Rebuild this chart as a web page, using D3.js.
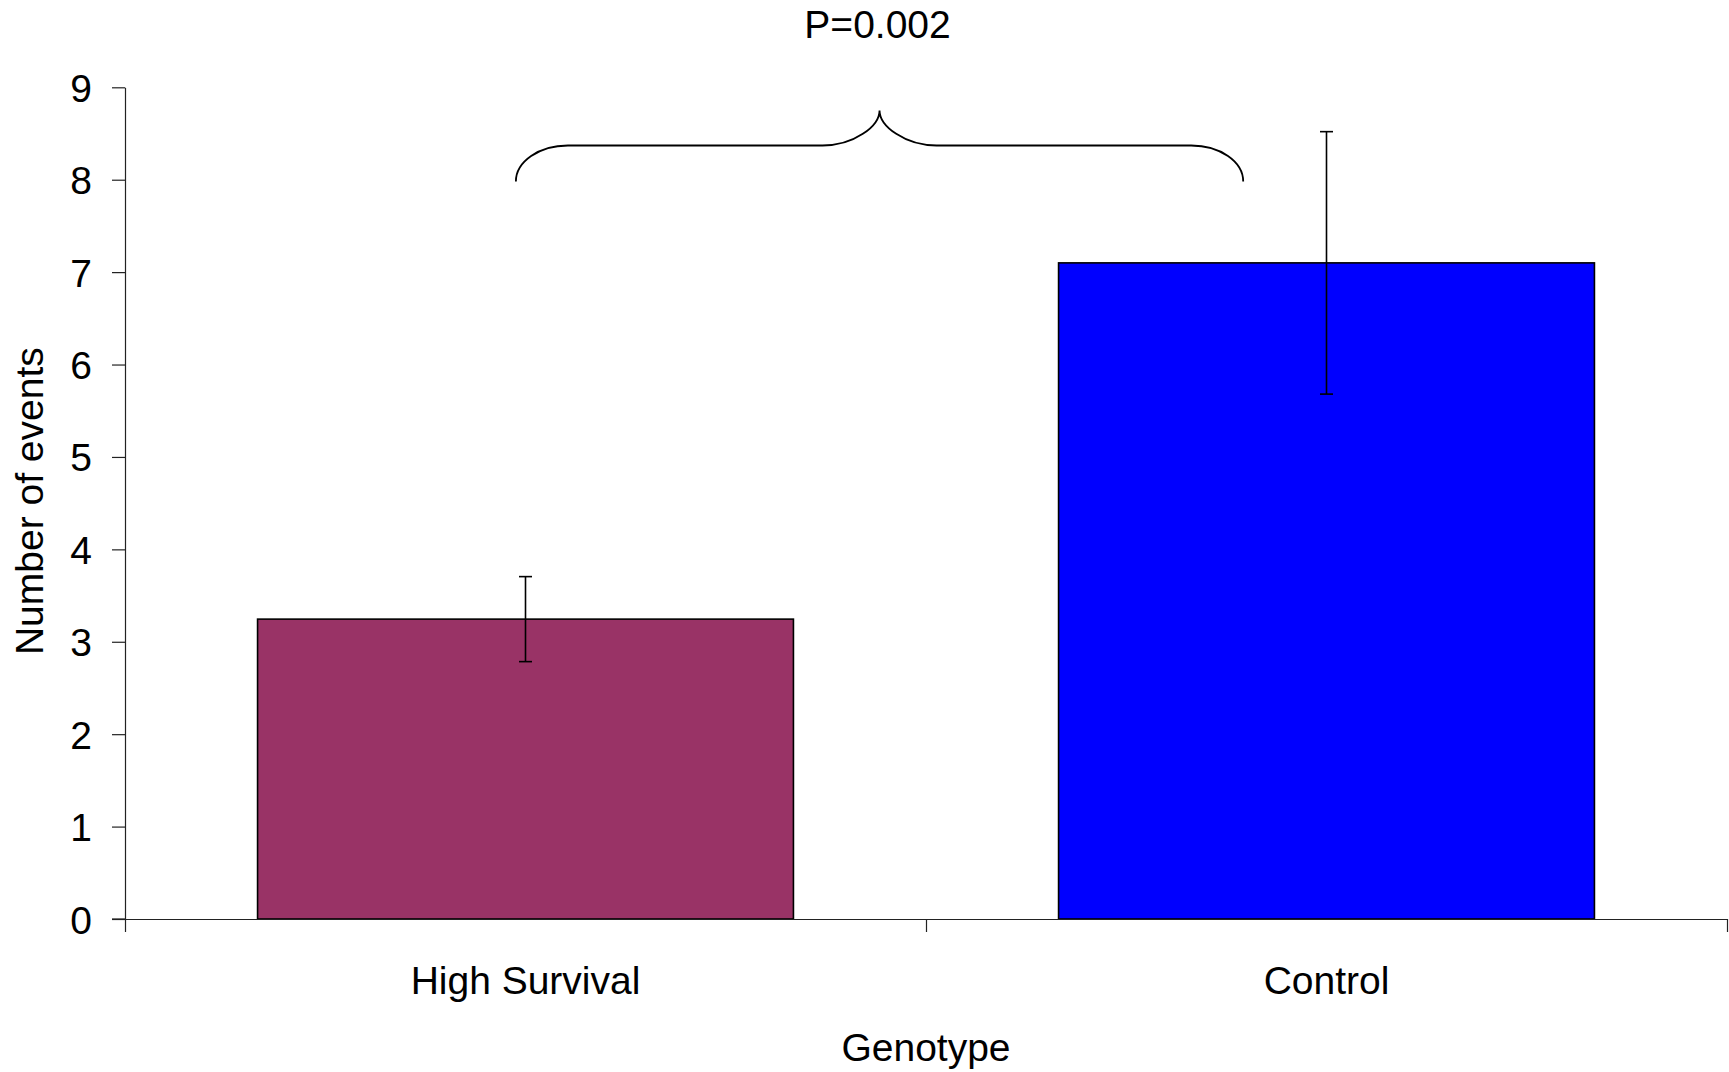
<!DOCTYPE html>
<html>
<head>
<meta charset="utf-8">
<script src="https://cdn.jsdelivr.net/npm/d3@7"></script>
<style>
  html, body { margin: 0; padding: 0; background: #fff; }
  svg { display: block; }
  text { font-family: "Liberation Sans", Arial, sans-serif; fill: #000; }
</style>
</head>
<body>
<script>
// ---- data ----
const categories = ["High Survival", "Control"];
const meanValues = [3.245, 7.1];
const errorValues = [0.46, 1.42];
const barColors = ["#993366", "#0000FF"];
const yTicks = [0, 1, 2, 3, 4, 5, 6, 7, 8, 9];
const xTitle = "Genotype";
const yTitle = "Number of events";
const pLabel = "P=0.002";
// brace (in category units along x: 0..2, and y data units)
const braceX = [0.488, 0.942, 1.396];   // left end, peak, right end
const braceY = [7.98, 8.37, 8.75];      // ends, shoulder, peak

// ---- layout ----
const W = 1729, H = 1072;
const mLeft = 125, mRight = 1727, mTop = 87.3, mBottom = 919;

const svg = d3.select("body").append("svg").attr("width", W).attr("height", H);

const x = d3.scaleBand().domain(categories).range([mLeft, mRight])
  .paddingInner(0.331).paddingOuter(0.1655);
const xc = d3.scaleLinear().domain([0, categories.length]).range([mLeft, mRight]);
const y = d3.scaleLinear().domain([0, 9]).range([mBottom, mTop]);

// bars
svg.selectAll("rect.bar").data(categories).join("rect")
  .attr("class", "bar")
  .attr("x", d => x(d))
  .attr("y", (d, i) => y(meanValues[i]))
  .attr("width", x.bandwidth())
  .attr("height", (d, i) => y(0) - y(meanValues[i]))
  .attr("fill", (d, i) => barColors[i])
  .attr("stroke", "#000").attr("stroke-width", 1.6);

// y axis
const yAxis = d3.axisLeft(y).tickValues(yTicks).tickFormat(d3.format("d"))
  .tickSize(13).tickPadding(20).tickSizeOuter(0);
const gy = svg.append("g").attr("transform", `translate(${mLeft},0)`).call(yAxis);
gy.select(".domain").attr("stroke", "#222").attr("stroke-width", 1.2);
gy.selectAll(".tick line").attr("stroke", "#222").attr("stroke-width", 1.2);
gy.selectAll(".tick text").attr("font-size", 39).attr("dy", "0.36em")
  .attr("font-family", "'Liberation Sans', Arial, sans-serif");

// x axis: line with boundary ticks, labels at centers
const xAxisLine = d3.axisBottom(xc).tickValues(d3.range(0, categories.length + 1))
  .tickFormat("").tickSize(13).tickSizeOuter(0);
const gx = svg.append("g").attr("transform", `translate(0,${mBottom})`).call(xAxisLine);
gx.select(".domain").attr("stroke", "#222").attr("stroke-width", 1.2);
gx.selectAll(".tick line").attr("stroke", "#222").attr("stroke-width", 1.2);
gx.append("line").attr("x1", mLeft - 13).attr("x2", mLeft).attr("y1", 0).attr("y2", 0)
  .attr("stroke", "#222").attr("stroke-width", 1.2);

const xLabels = d3.axisBottom(x).tickSize(0).tickPadding(0);
const gxl = svg.append("g").attr("transform", `translate(0,${mBottom})`).call(xLabels);
gxl.select(".domain").remove();
gxl.selectAll(".tick text").attr("font-size", 39).attr("dy", null).attr("y", 75)
  .attr("font-family", "'Liberation Sans', Arial, sans-serif");

// error bars
const cap = 6.5;
const eb = svg.selectAll("g.err").data(categories).join("g").attr("class", "err");
eb.append("line")
  .attr("x1", d => x(d) + x.bandwidth() / 2).attr("x2", d => x(d) + x.bandwidth() / 2)
  .attr("y1", (d, i) => y(meanValues[i] + errorValues[i]))
  .attr("y2", (d, i) => y(meanValues[i] - errorValues[i]));
eb.append("line")
  .attr("x1", d => x(d) + x.bandwidth() / 2 - cap).attr("x2", d => x(d) + x.bandwidth() / 2 + cap)
  .attr("y1", (d, i) => y(meanValues[i] + errorValues[i]))
  .attr("y2", (d, i) => y(meanValues[i] + errorValues[i]));
eb.append("line")
  .attr("x1", d => x(d) + x.bandwidth() / 2 - cap).attr("x2", d => x(d) + x.bandwidth() / 2 + cap)
  .attr("y1", (d, i) => y(meanValues[i] - errorValues[i]))
  .attr("y2", (d, i) => y(meanValues[i] - errorValues[i]));
eb.selectAll("line").attr("stroke", "#000").attr("stroke-width", 1.6);

// brace
(function () {
  const k = 0.5523;
  const xl = xc(braceX[0]), xm = xc(braceX[1]), xr = xc(braceX[2]);
  const ye = y(braceY[0]), ys = y(braceY[1]), yp = y(braceY[2]);
  const r1 = 52, r2 = 57;
  const p = d3.path();
  p.moveTo(xl, ye);
  p.bezierCurveTo(xl, ye - k * (ye - ys), xl + r1 - k * r1, ys, xl + r1, ys);
  p.lineTo(xm - r2, ys);
  p.bezierCurveTo(xm - r2 + k * r2, ys, xm, ys - k * (ys - yp), xm, yp);
  p.bezierCurveTo(xm, ys - k * (ys - yp), xm + r2 - k * r2, ys, xm + r2, ys);
  p.lineTo(xr - r1, ys);
  p.bezierCurveTo(xr - r1 + k * r1, ys, xr, ye - k * (ye - ys), xr, ye);
  svg.append("path").attr("d", p.toString()).attr("fill", "none")
    .attr("stroke", "#000").attr("stroke-width", 1.8);
  svg.append("text").attr("x", xm - 2).attr("y", 38).attr("text-anchor", "middle")
    .attr("font-size", 39).text(pLabel);
})();

// axis titles
svg.append("text").attr("x", (mLeft + mRight) / 2).attr("y", 1061)
  .attr("text-anchor", "middle").attr("font-size", 39).text(xTitle);
svg.append("text").attr("transform", `translate(43,${(mTop + mBottom) / 2 - 2}) rotate(-90)`)
  .attr("text-anchor", "middle").attr("font-size", 39).text(yTitle);
</script>
</body>
</html>
